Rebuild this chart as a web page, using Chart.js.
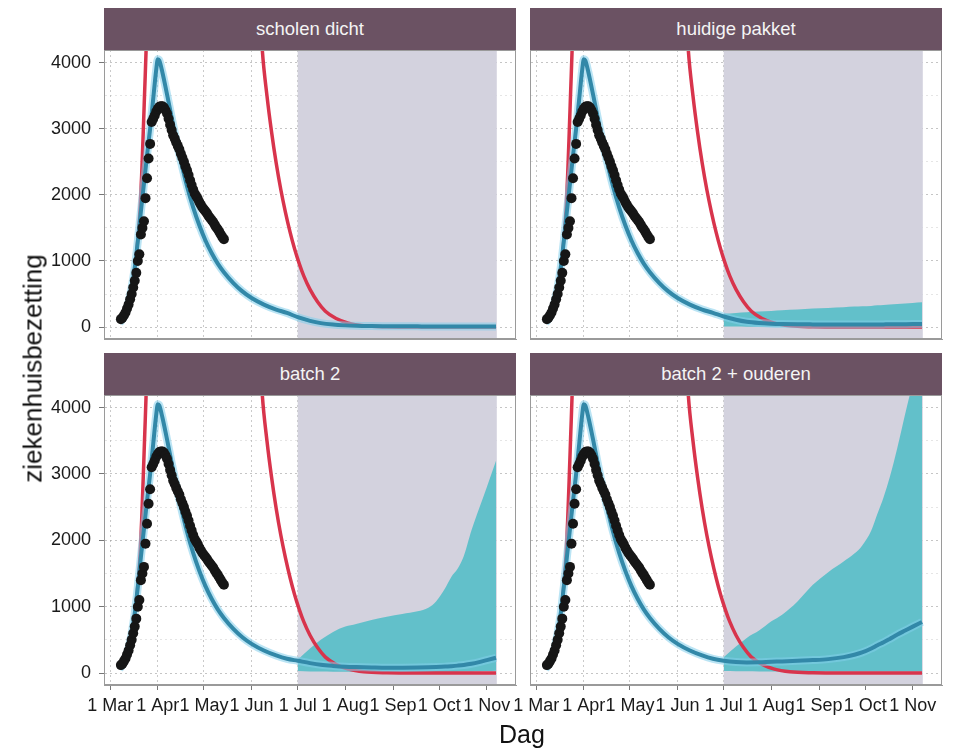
<!DOCTYPE html>
<html>
<head>
<meta charset="utf-8">
<script src="https://cdn.jsdelivr.net/npm/chart.js@4.4.1/dist/chart.umd.min.js"></script>
<style>
  body { margin: 0; background: #fff; font-family: "Liberation Sans", Arial, sans-serif; }
  #wrap { position: relative; width: 953px; height: 752px; overflow: hidden; }
  canvas { position: absolute; left: 0; top: 0; }
  .strip { position: absolute; width: 412px; height: 42px; background: #6b5263; color: #f4f4f4;
           font-size: 18.5px; text-align: center; line-height: 42px; }
  .ytitle { position: absolute; left: -117px; top: 353px; width: 300px; text-align: center;
            font-size: 26px; color: #111; transform: rotate(-90deg); }
  .xtitle { position: absolute; left: 472px; top: 720px; width: 100px; text-align: center;
            font-size: 25px; color: #111; }
</style>
</head>
<body>
<div id="wrap">
  <canvas id="c0" width="953" height="752"></canvas>
  <canvas id="c1" width="953" height="752"></canvas>
  <canvas id="c2" width="953" height="752"></canvas>
  <canvas id="c3" width="953" height="752"></canvas>
  <div class="strip" style="left:104px;top:8px">scholen dicht</div>
  <div class="strip" style="left:530px;top:8px">huidige pakket</div>
  <div class="strip" style="left:104px;top:353px">batch 2</div>
  <div class="strip" style="left:530px;top:353px">batch 2 + ouderen</div>
  <div class="ytitle">ziekenhuisbezetting</div>
  <div class="xtitle">Dag</div>
</div>
<script>
// days counted from 1 March
const tickDays = [0, 31, 61, 92, 122, 153, 184, 214, 245];
const tickLabels = ['1 Mar', '1 Apr', '1 May', '1 Jun', '1 Jul', '1 Aug', '1 Sep', '1 Oct', '1 Nov'];
const yTicks = [0, 500, 1000, 1500, 2000, 2500, 3000, 3500, 4000];

// observed hospital occupancy, one point per day starting 8 March
const obsFirstDay = 7;
const obsValues = [120, 140, 180, 220, 280, 340, 420, 500, 600, 700, 820, 1000, 1100, 1400, 1500, 1600,
  1950, 2250, 2550, 2770, 3100, 3150, 3200, 3260, 3300, 3330, 3340, 3340, 3320, 3280, 3230, 3150,
  3060, 2980, 2900, 2850, 2790, 2740, 2690, 2620, 2560, 2500, 2430, 2370, 2300, 2220, 2150, 2080,
  2020, 1980, 1940, 1890, 1850, 1810, 1780, 1750, 1720, 1680, 1650, 1620, 1590, 1550, 1510, 1480,
  1440, 1400, 1360, 1330];

// unmitigated model (red)
const redDays = [8, 10, 12, 14, 16, 18, 19.5, 20.5, 21.5, 22.5, 23.4, 24.5, 27, 31, 40, 55, 70, 85, 93, 97,
  99, 102, 105, 108, 111, 114, 117, 120, 123, 126, 130, 135, 140, 147, 155, 165, 180, 200, 251];
const redValues = [110, 210, 370, 590, 900, 1330, 1800, 2300, 2930, 3600, 4200, 5200, 8000, 13000, 20000,
  24000, 20000, 11000, 6500, 5000, 4180, 3500, 2950, 2480, 2080, 1740, 1440, 1180, 960, 770, 570, 380,
  240, 130, 60, 20, 4, 0, 0];

// model median until 1 July (same in every scenario)
const fitDays = [6, 8, 10, 12, 14, 16, 18, 20, 22, 24, 26, 28, 30, 31, 32, 34, 37, 40, 43, 46, 50, 54,
  58, 62, 66, 70, 74, 80, 86, 92, 100, 108, 115];
const fitValues = [60, 120, 220, 380, 600, 900, 1300, 1750, 2170, 2600, 3000, 3450, 3900, 4050, 4030, 3850,
  3520, 3170, 2830, 2510, 2130, 1810, 1540, 1310, 1120, 960, 830, 670, 540, 440, 340, 265, 215];

// scenarios from 1 July
const scenDays = [122, 130, 137, 145, 153, 160, 170, 180, 190, 200, 207, 212, 218, 222, 226, 230, 235, 240, 245, 251];
const scenarioNames = ['scholen dicht', 'huidige pakket', 'batch 2', 'batch 2 + ouderen'];
const medianDicht = [150, 95, 60, 38, 26, 20, 16, 14, 12, 11, 10, 10, 10, 10, 10, 10, 10, 10, 10, 10];
const lowerDicht = [120, 75, 45, 25, 15, 10, 7, 5, 5, 4, 4, 4, 4, 4, 4, 4, 4, 4, 4, 4];
const upperDicht = [180, 120, 80, 55, 40, 32, 27, 24, 22, 20, 20, 20, 20, 20, 20, 20, 20, 20, 20, 20];
const medianPakket = [160, 110, 80, 62, 52, 47, 43, 41, 40, 40, 40, 40, 40, 40, 41, 42, 43, 44, 45, 46];
const lowerPakket = [10, 8, 6, 5, 5, 5, 5, 5, 5, 5, 5, 5, 5, 5, 5, 5, 5, 5, 5, 5];
const upperPakket = [200, 215, 225, 235, 245, 255, 265, 280, 290, 300, 310, 315, 320, 330, 335, 340, 350, 355, 365, 375];
const medianBatch2 = [185, 150, 125, 108, 96, 90, 84, 80, 80, 82, 86, 90, 97, 104, 112, 122, 140, 165, 195, 230];
const lowerBatch2 = [30, 25, 22, 20, 20, 20, 20, 20, 20, 20, 20, 20, 20, 20, 20, 22, 25, 28, 30, 35];
const upperBatch2 = [200, 370, 500, 620, 700, 740, 800, 850, 890, 930, 985, 1080, 1280, 1450, 1570, 1760, 2150, 2480, 2800, 3200];
const medianOuderen = [185, 165, 160, 162, 170, 175, 185, 195, 210, 240, 275, 310, 370, 420, 465, 515, 580, 640, 700, 770];
const lowerOuderen = [30, 28, 26, 25, 25, 25, 25, 25, 25, 25, 25, 25, 25, 25, 25, 25, 25, 25, 25, 25];
const upperOuderen = [240, 400, 530, 640, 780, 880, 1080, 1330, 1520, 1680, 1800, 1920, 2150, 2400, 2650, 2950, 3400, 3900, 4400, 5200];

const shadeFrom = 122;
const shadeTo = 251.5;

Chart.defaults.font.family = '"Liberation Sans", Arial, sans-serif';

const pts = (days, vals) => vals.map((v, i) => ({ x: days[i], y: v }));

const shadePlugin = {
  id: 'shade',
  beforeDatasetsDraw(chart) {
    const { ctx, chartArea, scales } = chart;
    const x0 = scales.x.getPixelForValue(shadeFrom);
    const x1 = scales.x.getPixelForValue(shadeTo);
    ctx.save();
    ctx.fillStyle = '#d3d2de';
    ctx.fillRect(x0, chartArea.top, x1 - x0, chartArea.bottom - chartArea.top);
    ctx.restore();
  },
  afterDraw(chart) {
    const { ctx, chartArea } = chart;
    ctx.save();
    ctx.strokeStyle = '#9a9a9a';
    ctx.lineWidth = 1;
    ctx.strokeRect(chartArea.left + 0.5, chartArea.top + 0.5,
      chartArea.right - chartArea.left - 1, chartArea.bottom - chartArea.top - 1);
    ctx.restore();
  }
};

const panels = [
  { id: 'c0', median: medianDicht, lower: lowerDicht, upper: upperDicht, showX: false, showY: true,
    pad: { left: 44, right: 437, top: 50, bottom: 413 } },
  { id: 'c1', median: medianPakket, lower: lowerPakket, upper: upperPakket, showX: false, showY: false,
    pad: { left: 500, right: 11, top: 50, bottom: 413 } },
  { id: 'c2', median: medianBatch2, lower: lowerBatch2, upper: upperBatch2, showX: true, showY: true,
    pad: { left: 44, right: 437, top: 395, bottom: 37 } },
  { id: 'c3', median: medianOuderen, lower: lowerOuderen, upper: upperOuderen, showX: true, showY: false,
    pad: { left: 500, right: 11, top: 395, bottom: 37 } }
];

panels.forEach((p, k) => {
  const obs = obsValues.map((v, i) => ({ x: obsFirstDay + i, y: v }));
  const medianLine = pts(fitDays, fitValues).concat(pts(scenDays, p.median));
  new Chart(document.getElementById(p.id), {
    type: 'line',
    data: {
      // first dataset is drawn on top
      datasets: [
        { label: 'data', data: obs, showLine: false, pointRadius: 5, pointBackgroundColor: '#161616',
          pointBorderWidth: 0 },
        { label: scenarioNames[k], data: medianLine, borderColor: '#3288a8', borderWidth: 4,
          pointRadius: 0, cubicInterpolationMode: 'monotone' },
        { label: 'halo', data: medianLine, borderColor: 'rgba(130,205,235,0.55)', borderWidth: 8,
          pointRadius: 0, cubicInterpolationMode: 'monotone' },
        { label: 'ongeremd', data: pts(redDays, redValues), borderColor: '#d8344c', borderWidth: 3.5,
          pointRadius: 0, cubicInterpolationMode: 'monotone' },
        { label: 'ondergrens', data: pts(scenDays, p.lower), borderWidth: 0, borderColor: 'rgba(0,0,0,0)',
          pointRadius: 0, cubicInterpolationMode: 'monotone' },
        { label: 'bovengrens', data: pts(scenDays, p.upper), borderWidth: 0, borderColor: 'rgba(0,0,0,0)',
          backgroundColor: 'rgba(88,190,200,0.92)', fill: '-1', pointRadius: 0, cubicInterpolationMode: 'monotone' }
      ]
    },
    options: {
      responsive: false,
      animation: false,
      devicePixelRatio: 1,
      layout: { padding: p.pad },
      plugins: { legend: { display: false }, tooltip: { enabled: false } },
      scales: {
        x: {
          type: 'linear', min: -4, max: 264, bounds: 'data',
          afterBuildTicks: s => { s.ticks = tickDays.map(v => ({ value: v })); },
          afterFit: s => { s.height = p.showX ? 30 : 0; },
          ticks: { display: p.showX, autoSkip: false, maxRotation: 0, minRotation: 0, padding: 5,
                   color: '#1a1a1a', font: { size: 18 },
                   callback: v => tickLabels[tickDays.indexOf(v)] },
          grid: { color: 'rgba(150,150,150,0.5)', drawTicks: p.showX, tickLength: 5, tickColor: '#777' },
          border: { display: true, color: '#9a9a9a', dash: [2, 3] }
        },
        y: {
          min: -180, max: 4190,
          afterBuildTicks: s => { s.ticks = yTicks.map(v => ({ value: v })); },
          afterFit: s => { s.width = p.showY ? 60 : 30; },
          ticks: { display: p.showY, padding: 8, color: '#1a1a1a', font: { size: 18 },
                   callback: v => (v % 1000 === 0 ? String(v) : '') },
          grid: {
            color: c => (c.tick && c.tick.value % 1000 === 0 ? 'rgba(150,150,150,0.55)' : 'rgba(170,170,170,0.3)'),
            drawTicks: p.showY, tickLength: 5,
            tickColor: c => (c.tick && c.tick.value % 1000 === 0 ? '#777' : 'rgba(0,0,0,0)')
          },
          border: { display: true, color: '#9a9a9a', dash: [2, 3] }
        }
      }
    },
    plugins: [shadePlugin]
  });
});
</script>
</body>
</html>
